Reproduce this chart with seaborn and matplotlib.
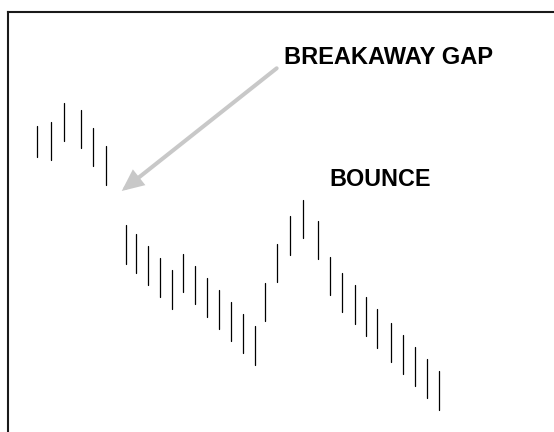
import matplotlib
matplotlib.use("Agg")
import matplotlib.pyplot as plt
from matplotlib.patches import FancyArrowPatch
import pandas as pd
import seaborn as sns

# Session times (trading days, with an overnight gap after day 6)
days = [1.03, 2.19, 3.28, 4.69, 5.69, 6.73,
        8.44, 9.28, 10.28, 11.28, 12.28, 13.19, 14.19, 15.19, 16.19,
        17.19, 18.19, 19.19, 20.03, 21.03, 22.06, 23.19, 24.44, 25.44,
        26.44, 27.53, 28.44, 29.36, 30.53, 31.53, 32.53, 33.53, 34.53]

highs = [32.4, 32.8, 34.7, 34.0, 32.2, 30.4,
         22.53, 21.63, 20.4, 19.2, 18.0, 19.63, 18.4, 17.2, 16.0,
         14.8, 13.6, 12.4, 16.7, 20.6, 23.4, 25.0, 22.9, 19.3,
         17.7, 16.5, 15.3, 14.1, 12.7, 11.5, 10.3, 9.1, 7.9]

lows = [29.33, 29.03, 30.93, 30.23, 28.43, 26.5,
        18.63, 17.73, 16.5, 15.3, 14.1, 15.8, 14.6, 13.3, 12.1,
        10.9, 9.7, 8.53, 12.9, 16.8, 19.53, 21.2, 19.1, 15.5,
        13.8, 12.6, 11.4, 10.2, 8.8, 7.6, 6.4, 5.2, 4.0]

gap_label = "BREAKAWAY GAP"
bounce_label = "BOUNCE"

sns.set_style("white")
plt.rcParams["font.family"] = ["Liberation Sans", "DejaVu Sans"]

# Long-form table: one high point and one low point per bar
rows = []
for i, (d, h, l) in enumerate(zip(days, highs, lows)):
    rows.append({"bar": i, "day": d, "price": h})
    rows.append({"bar": i, "day": d, "price": l})
bars = pd.DataFrame(rows)

fig = plt.figure(figsize=(5.54, 4.32), dpi=100)
ax = fig.add_axes([7.5 / 554, 0.0, 1 - 7.5 / 554, 1 - 11.7 / 432])

sns.lineplot(data=bars, x="day", y="price", units="bar", estimator=None,
             sort=False, color="black", linewidth=0.9, ax=ax, legend=False)

ax.set_xlim(-1.46, 44.08)
ax.set_ylim(1.8, 43.83)
ax.set_xticks([])
ax.set_yticks([])
ax.set_xlabel("")
ax.set_ylabel("")
for side in ("right", "bottom"):
    ax.spines[side].set_visible(False)
for side in ("left", "top"):
    ax.spines[side].set_linewidth(1.5)
    ax.spines[side].set_color("#1a1a1a")

# Arrow pointing into the gap between day 6 and day 8
arrow = FancyArrowPatch((20.97, 38.17), (8.06, 25.9),
                        arrowstyle="-|>,head_length=1.1,head_width=0.5",
                        mutation_scale=10, linewidth=2.9,
                        color="#c8c8c8", shrinkA=0, shrinkB=0,
                        joinstyle="miter")
ax.add_patch(arrow)

ax.text(21.55, 38.6, gap_label, fontsize=17, fontweight="bold",
        ha="left", va="baseline", color="black")
ax.text(25.33, 26.4, bounce_label, fontsize=16.8, fontweight="bold",
        ha="left", va="baseline", color="black")

fig.savefig("out.png", dpi=100)
